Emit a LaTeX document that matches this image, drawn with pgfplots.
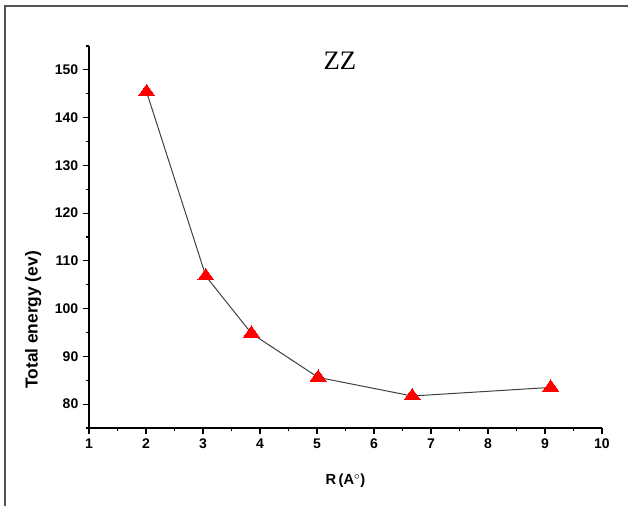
\documentclass[border=0pt]{standalone}
\usepackage{fontspec}
\setmainfont{Liberation Sans}
\newfontfamily\seriffont{Liberation Serif}
\usepackage{pgfplots}
\pgfplotsset{compat=1.18}

\begin{document}
\begin{tikzpicture}
% 1 px of the reference = 0.75pt
\useasboundingbox (0,0) rectangle (471pt,379.5pt);
\draw[line width=1.5pt, black!67] (3.75pt,-2pt) -- (3.75pt,375pt) -- (474pt,375pt);

\begin{axis}[
    at={(66.75pt,58.5pt)},
    anchor=south west,
    scale only axis,
    width=384.75pt,
    height=286.5pt,
    xmin=1, xmax=10,
    ymin=75, ymax=155,
    axis lines=left,
    axis line style={-, line width=0.9pt},
    xtick={1,2,...,10},
    ytick={80,90,...,150},
    minor xtick={1.5,2.5,...,9.5},
    minor ytick={75,85,...,155},
    tick align=outside,
    major tick length=4.5pt,
    minor tick length=2.5pt,
    every tick/.style={black, line width=0.9pt},
    /pgf/number format/assume math mode=true,
    tick label style={font=\bfseries\fontsize{10.5}{12}\selectfont},
    xlabel={R\,(A$^{\circ}$)},
    xlabel style={font=\bfseries\fontsize{11}{13}\selectfont, yshift=-12pt},
    ylabel={Total energy (ev)},
    ylabel style={font=\bfseries\fontsize{13}{15}\selectfont,
                  at={(axis description cs:-0.109,0.283)}, anchor=center},
    clip=false,
]
\addplot[
    black!75, line width=0.75pt,
    mark=triangle*,
    mark size=5.6pt,
    mark options={red, fill=red, draw=red, xscale=1.25, line width=0pt}
] coordinates {
    (2.01,145.4)
    (3.05,106.8)
    (3.85,94.8)
    (5.02,85.6)
    (6.67,81.7)
    (9.10,83.5)
};
\node[font=\seriffont\fontsize{20}{24}\selectfont] at (axis description cs:0.489,0.961) {ZZ};
\end{axis}
\end{tikzpicture}
\end{document}
